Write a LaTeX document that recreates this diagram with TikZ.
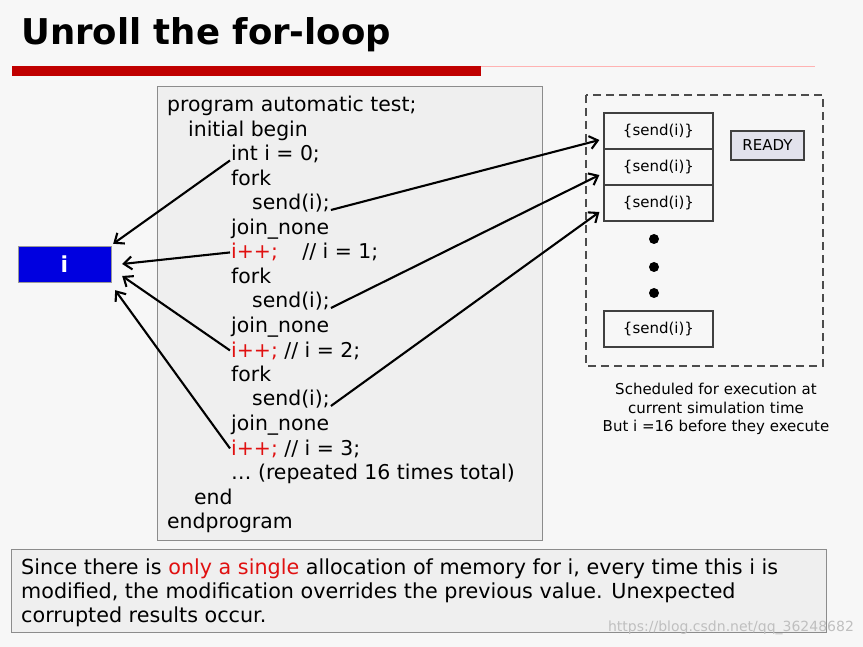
\documentclass[tikz,border=0pt]{standalone}
\usepackage{fontspec}
\setmainfont{DejaVu Sans}
\newfontfamily\titlefont{DejaVu Sans Bold}
\usepackage{xcolor}
\usetikzlibrary{arrows.meta}
\definecolor{barred}{HTML}{C00000}
\definecolor{incred}{HTML}{E01010}
\definecolor{boxgray}{HTML}{EFEFEF}
\definecolor{bggray}{HTML}{F7F7F7}
\definecolor{readyfill}{HTML}{E2E2EC}
\definecolor{ivarblue}{HTML}{0000E0}

\begin{document}
\begin{tikzpicture}[
    x=1pt, y=-1pt,      % work in pixels of the slide, y going down
    codeline/.style = {anchor=base west, inner sep=1pt, font=\fontsize{20.4}{24}\selectfont},
    sendbox/.style = {draw=black!75, line width=1.2pt, fill=bggray, minimum width=109pt, minimum height=36pt, font=\fontsize{15}{18}\selectfont},
    arr/.style = {-{Straight Barb[length=8pt, width=13pt]}, line width=2.1pt}
  ]
    \useasboundingbox[fill=bggray] (0,0) rectangle (863,647);

    % title and bar
    \node[anchor=base west, inner sep=0] (title) at (21,45) {\titlefont\fontsize{35.5}{40}\selectfont Unroll the for-loop};
    \fill[barred] (12,66) rectangle (481,76);
    \draw[red!30, line width=1.5pt] (481,66.5) -- (815,66.5);

    % code listing
    \draw[fill=boxgray, draw=black!45, line width=1pt] (157,87) rectangle (542,540);
    \node[codeline] (lprog)    at (166,112)   {program automatic test;};
    \node[codeline] (linit)    at (187,136.5) {initial begin};
    \node[codeline] (lint)     at (230,161)   {int i = 0;};
    \node[codeline] (lfork1)   at (230,185.5) {fork};
    \node[codeline] (lsend1)   at (251,210)   {send(i);};
    \node[codeline] (ljoin1)   at (230,234.5) {join\_none};
    \node[codeline] (linc1)    at (230,259)   {\textcolor{incred}{i++;}\hspace{1.2em}// i = 1;};
    \node[codeline] (lfork2)   at (230,283.5) {fork};
    \node[codeline] (lsend2)   at (251,308)   {send(i);};
    \node[codeline] (ljoin2)   at (230,332.5) {join\_none};
    \node[codeline] (linc2)    at (230,357)   {\textcolor{incred}{i++;} // i = 2;};
    \node[codeline] (lfork3)   at (230,381.5) {fork};
    \node[codeline] (lsend3)   at (251,406)   {send(i);};
    \node[codeline] (ljoin3)   at (230,430.5) {join\_none};
    \node[codeline] (linc3)    at (230,455)   {\textcolor{incred}{i++;} // i = 3;};
    \node[codeline] (ldots)    at (230,479.5) {\dots{} (repeated 16 times total)};
    \node[codeline] (lend)     at (193,504)   {end};
    \node[codeline] (lendprog) at (166,528.5) {endprogram};

    % the single variable
    \node[draw=black!40, fill=ivarblue, text=white, minimum width=93pt, minimum height=36pt,
          font=\bfseries\fontsize{22}{24}\selectfont] (ivar) at (64.5,264) {i};

    \draw[arr] ([yshift=-6pt]lint.west) -- ([shift={(2pt,2pt)}]ivar.north east);
    \draw[arr] (linc1.west) -- ([xshift=11pt]ivar.east);
    \draw[arr] (linc2.west) -- ([shift={(11pt,-12pt)}]ivar.east);
    \draw[arr] (linc3.west) -- ([shift={(4pt,-8pt)}]ivar.south east);

    % ready queue
    \draw[dashed, dash pattern=on 8pt off 5pt, draw=black!70, line width=1.4pt] (586,95) rectangle (823,366);
    \foreach \k/\y in {1/131, 2/167, 3/203}
      \node[sendbox] (q\k) at (658.5,\y) {\{send(i)\}};
    \node[sendbox] (qn) at (658.5,329) {\{send(i)\}};
    \foreach \y in {239, 267, 293}
      \fill (654,\y) circle (5pt);
    \node[draw=black!75, line width=1.2pt, fill=readyfill, minimum width=73pt, minimum height=29pt,
          font=\fontsize{15}{18}\selectfont] (ready) at (767.5,145.5) {READY};
    \node[align=center, font=\fontsize{15}{18.5}\selectfont] (sched) at (716,409)
      {Scheduled for execution at\\current simulation time\\But i =16 before they execute};

    \draw[arr] (lsend1.base east) -- ([shift={(-4pt,-9pt)}]q1.west);
    \draw[arr] (lsend2.base east) -- ([shift={(-4pt,-8pt)}]q2.west);
    \draw[arr] (lsend3.base east) -- ([shift={(-4pt,-9pt)}]q3.west);

    % note at the bottom
    \draw[fill=boxgray, draw=black!45, line width=1pt] (11,549) rectangle (826,632);
    \node[anchor=north west, align=left, inner sep=0, font=\fontsize{20.7}{24}\selectfont] (note) at (21,559)
      {Since there is \textcolor{incred}{only a single} allocation of memory for i, every time this i is\\
       modified, the modification overrides the previous value. Unexpected\\
       corrupted results occur.};
    \node[text=black!25, font=\fontsize{14}{16}\selectfont] (mark) at (731,628) {https://blog.csdn.net/qq\_36248682};
  \end{tikzpicture}
\end{document}
